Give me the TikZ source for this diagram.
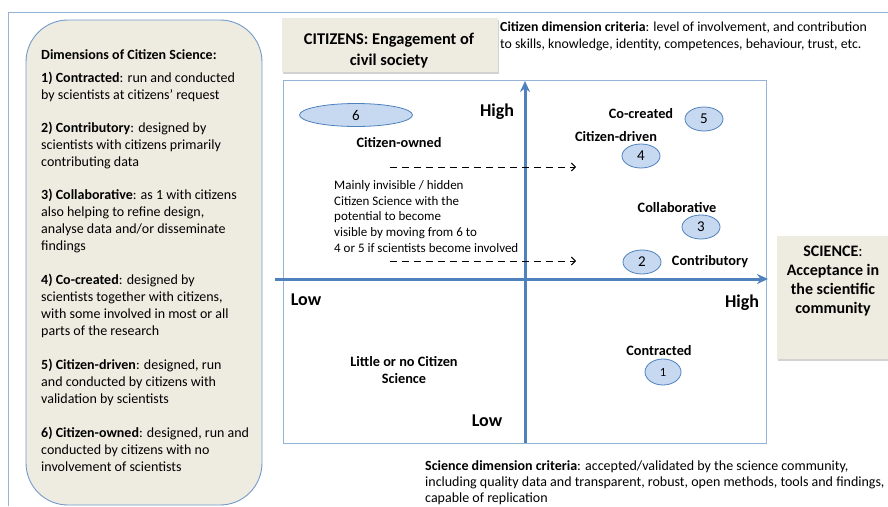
\documentclass[tikz,border=0pt]{standalone}
\usepackage{fontspec}
\setmainfont{Carlito}
\usetikzlibrary{shapes.geometric,arrows.meta,shadows}
\definecolor{axisblue}{HTML}{4F81BD}
\definecolor{frameblue}{HTML}{95B3D7}
\definecolor{bubblefill}{HTML}{C6D9F1}
\definecolor{tanfill}{HTML}{EEECE1}
\newcommand{\fsz}[2]{\fontsize{#1}{#2}\selectfont}

\tikzset{
  panel/.style={draw=frameblue, line width=0.8pt},
  tanbox/.style={fill=tanfill, draw=none, drop shadow={opacity=0.35, shadow xshift=1.2pt, shadow yshift=-1.5pt}},
  bubble/.style={ellipse, draw=axisblue, line width=0.8pt, fill=bubblefill, inner sep=0pt,
                 minimum width=38pt, minimum height=24pt, font=\fsz{15}{17}},
  quadlabel/.style={font=\bfseries\fsz{14.3}{17}, inner sep=0pt},
  axislabel/.style={font=\bfseries\fsz{18}{20}, inner sep=0pt},
  axisline/.style={draw=axisblue, line width=3pt, -{Stealth[length=11pt,width=10pt]}},
  movearrow/.style={draw=black, line width=1pt, dash pattern=on 7pt off 5pt, -{Straight Barb[length=4pt,width=8pt]}},
}

\begin{document}
\begin{tikzpicture}[x=1pt, y=-1pt]
\useasboundingbox (0,0) rectangle (888,506);
\fill[white] (0,0) rectangle (888,506);

% outer frame
\draw[panel] (8,506) -- (8,12) -- (888,12);

% left panel with the dimension list
\draw[draw=axisblue!80, line width=0.9pt, fill=tanfill, rounded corners=42pt] (26,20) rectangle (262,505);
\node (dims) [anchor=north west, inner sep=0pt, align=left, font=\fsz{14}{17}] at (41,49) {%
\textbf{Dimensions of Citizen Science:}\\[6pt]
\textbf{1) Contracted}: run and conducted\\
by scientists at citizens’ request\\[16pt]
\textbf{2) Contributory}: designed by\\
scientists with citizens primarily\\
contributing data\\[16pt]
\textbf{3) Collaborative}: as 1 with citizens\\
also helping to refine design,\\
analyse data and/or disseminate\\
findings\\[17pt]
\textbf{4) Co-created}: designed by\\
scientists together with citizens,\\
with some involved in most or all\\
parts of the research\\[17pt]
\textbf{5) Citizen-driven}: designed, run\\
and conducted by citizens with\\
validation by scientists\\[17pt]
\textbf{6) Citizen-owned}: designed, run and\\
conducted by citizens with no\\
involvement of scientists};

% citizens heading box
\path[tanbox] (282,18) rectangle (498,72);
\node (cit) [align=center, font=\bfseries\fsz{16.4}{21}, inner sep=0pt] at (389,51) {CITIZENS: Engagement of\\civil society};

\node (citcrit) [anchor=north west, align=left, inner sep=0pt, font=\fsz{13.8}{16.5}] at (500,22) {%
\textbf{Citizen dimension criteria}: level of involvement, and contribution\\
to skills, knowledge, identity, competences, behaviour, trust, etc.};

% chart frame
\draw[panel] (283,80) rectangle (766,443);

% axes
\coordinate (vbot) at (525,443);
\coordinate (vtop) at (525,81);
\coordinate (hleft) at (275,279);
\coordinate (hright) at (768,279);
\draw[axisline] (vbot) -- (vtop);
\draw[axisline] (hleft) -- (hright);

\node (hightop) [axislabel] at (497,112) {High};
\node (lowleft) [axislabel] at (306,300) {Low};
\node (highright) [axislabel] at (742,303) {High};
\node (lowbot) [axislabel] at (487,421) {Low};

% science heading box
\path[tanbox] (777,236) rectangle (890,359);
\node (sci) [align=center, font=\bfseries\fsz{16}{19.3}, inner sep=0pt] at (833,281) {SCIENCE\textmd{:}\\Acceptance in\\the scientific\\community};

% citizen-owned quadrant
\node (e6) [bubble, minimum width=113pt, minimum height=23pt] at (356,115) {6};
\node (owned) [quadlabel] at (399,143) {Citizen-owned};
\coordinate (d1a) at (390,167);
\coordinate (d1b) at (576,167);
\coordinate (d2a) at (390,261);
\coordinate (d2b) at (576,261);
\draw[movearrow] (d1a) -- (d1b);
\draw[movearrow] (d2a) -- (d2b);
\node (hidden) [anchor=north west, align=left, inner sep=0pt, font=\fsz{13}{15.8}] at (334,180) {%
Mainly invisible / hidden\\
Citizen Science with the\\
potential to become\\
visible by moving from 6 to\\
4 or 5 if scientists become involved};

% science-led quadrant
\node (cocreated) [quadlabel] at (641,114) {Co-created};
\node (e5) [bubble] at (704,119) {5};
\node (e4) [bubble] at (641,156) {4};
\node (driven) [quadlabel] at (616,137) {Citizen-driven};
\node (collab) [quadlabel] at (677,208) {Collaborative};
\node (e3) [bubble] at (701,227) {3};
\node (e2) [bubble] at (642,262) {2};
\node (contrib) [quadlabel] at (710,262) {Contributory};
\node (contracted) [quadlabel] at (659,351) {Contracted};
\node (e1) [bubble, minimum width=36pt, minimum height=26pt] at (663,372) {\fsz{12.5}{14}1};

\node (little) [align=center, inner sep=0pt, font=\bfseries\fsz{14.3}{17}] at (404,370.5) {Little or no Citizen\\Science};

% science criteria text
\node (scicrit) [anchor=north west, align=left, inner sep=0pt, font=\fsz{14}{16.4}] at (425,460) {%
\textbf{Science dimension criteria}: accepted/validated by the science community,\\
including quality data and transparent, robust, open methods, tools and findings,\\
capable of replication};
\end{tikzpicture}
\end{document}
